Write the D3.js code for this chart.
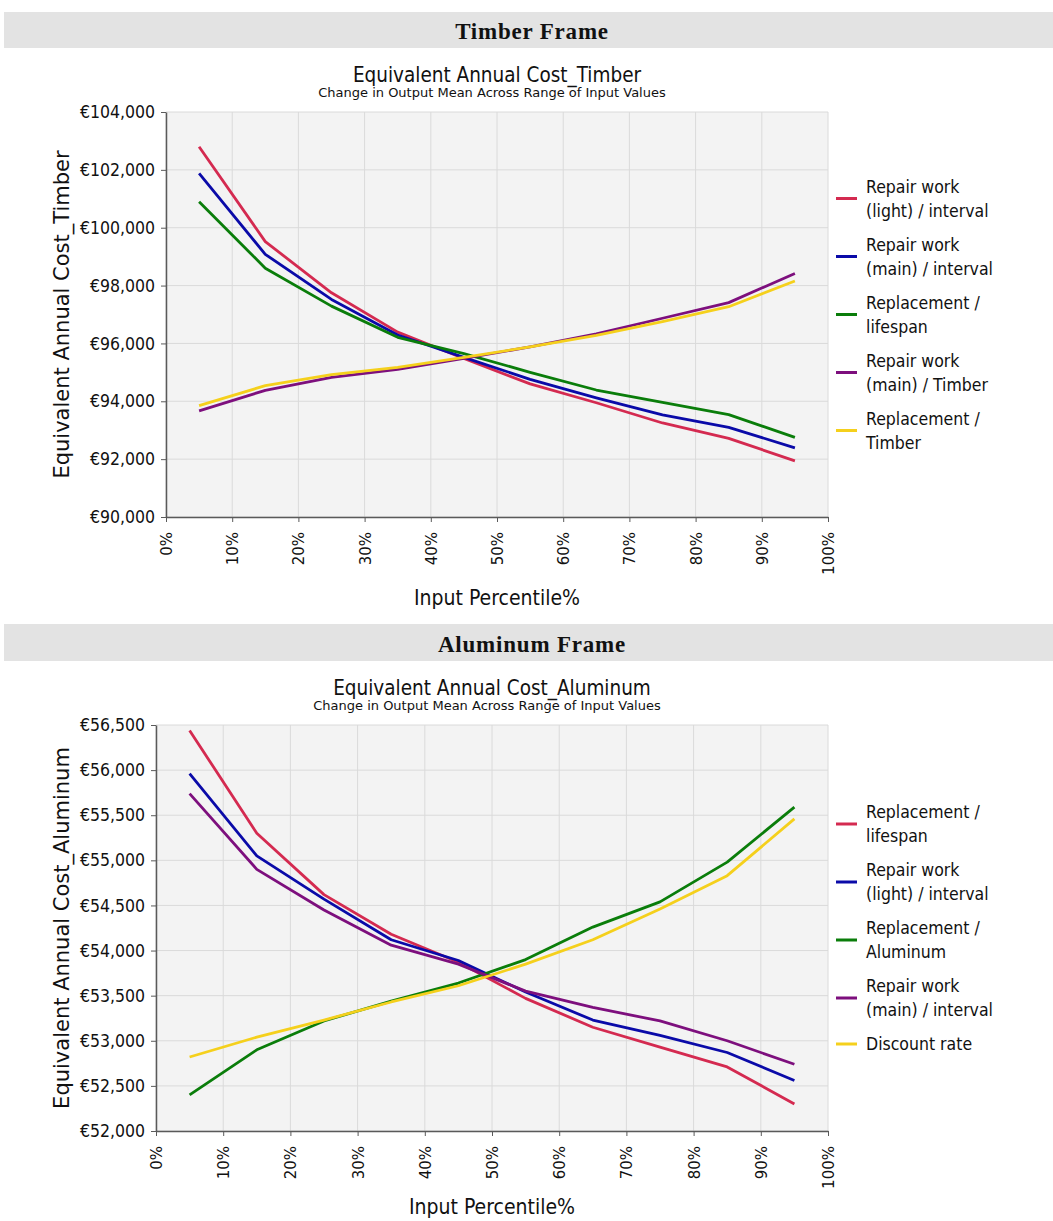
<!DOCTYPE html>
<html>
<head>
<meta charset="utf-8">
<script src="https://cdn.jsdelivr.net/npm/d3@7"></script>
<style>
body { margin: 0; background: #fff; }
svg text { fill: #111; }
</style>
</head>
<body>
<div id="chart"></div>
<script>
// ########## data #############
// input percentiles where the mean was sampled
const percentiles = [5, 15, 25, 35, 45, 55, 65, 75, 85, 95];
const xTicks = [0, 10, 20, 30, 40, 50, 60, 70, 80, 90, 100];

// Timber frame
const timberLegend = [
    ["Repair work", "(light) / interval"],
    ["Repair work", "(main) / interval"],
    ["Replacement /", "lifespan"],
    ["Repair work", "(main) / Timber"],
    ["Replacement /", "Timber"]
];
const timberLightInterval = [102800, 99520, 97750, 96390, 95480, 94600, 93950, 93250, 92720, 91940];
const timberMainInterval  = [101880, 99080, 97520, 96290, 95520, 94760, 94120, 93530, 93100, 92390];
const timberLifespan      = [100900, 98600, 97290, 96210, 95650, 95000, 94390, 93960, 93540, 92750];
const timberMainTimber    = [93670, 94380, 94830, 95100, 95480, 95880, 96330, 96870, 97410, 98420];
const timberReplTimber    = [93850, 94540, 94920, 95170, 95520, 95880, 96280, 96750, 97270, 98160];
const timberYTicks = [90000, 92000, 94000, 96000, 98000, 100000, 102000, 104000];

// Aluminum frame
const aluLegend = [
    ["Replacement /", "lifespan"],
    ["Repair work", "(light) / interval"],
    ["Replacement /", "Aluminum"],
    ["Repair work", "(main) / interval"],
    ["Discount rate"]
];
const aluLifespan      = [56440, 55300, 54620, 54180, 53870, 53470, 53150, 52930, 52710, 52300];
const aluLightInterval = [55960, 55050, 54570, 54120, 53890, 53540, 53230, 53060, 52870, 52560];
const aluReplAluminum  = [52400, 52900, 53220, 53440, 53640, 53900, 54260, 54540, 54980, 55590];
const aluMainInterval  = [55740, 54900, 54450, 54060, 53850, 53550, 53370, 53220, 53000, 52740];
const aluDiscountRate  = [52820, 53040, 53230, 53430, 53610, 53850, 54120, 54460, 54830, 55460];
const aluYTicks = [52000, 52500, 53000, 53500, 54000, 54500, 55000, 55500, 56000, 56500];

// series colours (same order in both charts)
const lineColors = ["#d42a50", "#0a0aa8", "#0a7d0a", "#7d0f7d", "#f5d01c"];

// ########## canvas #############
const width = 1053, height = 1221;
const svg = d3.select("#chart").append("svg")
        .attr("width", width).attr("height", height)
        .attr("viewBox", `0 0 ${width} ${height}`);

const euro = v => "€" + d3.format(",")(v);

// grey section header
function drawBand(y, h, label) {
    svg.append("rect")
        .attr("x", 4).attr("y", y)
        .attr("width", width - 4).attr("height", h)
        .attr("fill", "#e3e3e3");
    svg.append("text")
        .attr("x", 532).attr("y", y + h / 2 + 9)
        .attr("text-anchor", "middle")
        .style("font-family", "'Liberation Serif', serif")
        .style("font-weight", "bold")
        .style("font-size", "23px")
        .style("letter-spacing", "0.8px")
        .text(label);
}

function drawChart(opt) {
    const x = d3.scaleLinear().domain([0, 100]).range([opt.left, opt.right]);
    const y = d3.scaleLinear()
            .domain([opt.yTicks[0], opt.yTicks[opt.yTicks.length - 1]])
            .range([opt.bottom, opt.top]);
    const cx = (opt.left + opt.right) / 2;
    const cy = (opt.top + opt.bottom) / 2;

    // titles
    svg.append("text")
        .attr("x", cx).attr("y", opt.top - 30)
        .attr("text-anchor", "middle")
        .style("font-family", "'DejaVu Sans Condensed', 'DejaVu Sans', sans-serif")
        .style("font-size", "20.5px")
        .text(opt.title);
    svg.append("text")
        .attr("x", cx - 5).attr("y", opt.top - 15)
        .attr("text-anchor", "middle")
        .style("font-family", "'DejaVu Sans', sans-serif")
        .style("font-size", "13px")
        .text("Change in Output Mean Across Range of Input Values");

    // plot background + grid
    const g = svg.append("g");
    g.append("rect")
        .attr("x", opt.left).attr("y", opt.top)
        .attr("width", opt.right - opt.left).attr("height", opt.bottom - opt.top)
        .attr("fill", "#f3f3f3");
    g.selectAll(".vgrid").data(xTicks).enter()
        .append("line").attr("class", "vgrid")
        .attr("x1", d => x(d)).attr("x2", d => x(d))
        .attr("y1", opt.top).attr("y2", opt.bottom)
        .attr("stroke", "#dadada").attr("stroke-width", 1);
    g.selectAll(".hgrid").data(opt.yTicks).enter()
        .append("line").attr("class", "hgrid")
        .attr("x1", opt.left).attr("x2", opt.right)
        .attr("y1", d => y(d)).attr("y2", d => y(d))
        .attr("stroke", "#dadada").attr("stroke-width", 1);

    // axes
    const yAxis = svg.append("g")
        .attr("transform", `translate(${opt.left},0)`)
        .call(d3.axisLeft(y).tickValues(opt.yTicks).tickFormat(euro)
            .tickSize(5).tickSizeOuter(0).tickPadding(6));
    yAxis.selectAll("text")
        .style("font-family", "'DejaVu Sans Condensed', 'DejaVu Sans', sans-serif")
        .style("font-size", "17.5px");

    const xAxis = svg.append("g")
        .attr("transform", `translate(0,${opt.bottom})`)
        .call(d3.axisBottom(x).tickValues(xTicks).tickFormat(d => d + "%")
            .tickSize(5).tickSizeOuter(0));
    xAxis.selectAll("text")
        .attr("transform", "rotate(-90)")
        .attr("text-anchor", "end")
        .attr("x", -15).attr("y", 0).attr("dy", "0.36em")
        .style("font-family", "'DejaVu Sans', sans-serif")
        .style("font-size", "15px");

    [yAxis, xAxis].forEach(a => {
        a.select(".domain").attr("stroke", "#5a5a5a").attr("stroke-width", 1.5);
        a.selectAll(".tick line").attr("stroke", "#5a5a5a");
    });

    // axis titles
    svg.append("text")
        .attr("transform", `translate(62,${cy}) rotate(-90)`)
        .attr("text-anchor", "middle").attr("dy", "0.35em")
        .style("font-family", "'DejaVu Sans', sans-serif")
        .style("font-size", "21px")
        .text(opt.yTitle);
    svg.append("text")
        .attr("x", cx).attr("y", opt.xTitleY)
        .attr("text-anchor", "middle")
        .style("font-family", "'DejaVu Sans Condensed', 'DejaVu Sans', sans-serif")
        .style("font-size", "21px")
        .text("Input Percentile%");

    // lines
    const line = d3.line()
        .x((d, i) => x(percentiles[i]))
        .y(d => y(d));
    svg.append("g").selectAll("path")
        .data(opt.series).enter()
        .append("path")
        .attr("d", d => line(d))
        .attr("fill", "none")
        .attr("stroke", (d, i) => lineColors[i])
        .attr("stroke-width", 2.8)
        .attr("stroke-linejoin", "round");

    // legend, vertically centred on the plot
    const lineH = 24;
    const itemH = opt.legend.map(l => l.length * lineH + 10);
    let yy = cy - d3.sum(itemH) / 2;
    opt.legend.forEach((lines, i) => {
        const mid = yy + itemH[i] / 2;
        svg.append("line")
            .attr("x1", 836).attr("x2", 857)
            .attr("y1", mid).attr("y2", mid)
            .attr("stroke", lineColors[i]).attr("stroke-width", 3);
        lines.forEach((t, k) => {
            svg.append("text")
                .attr("x", 866)
                .attr("y", mid - (lines.length - 1) * lineH / 2 + k * lineH + 6)
                .style("font-family", "'DejaVu Sans Condensed', 'DejaVu Sans', sans-serif")
                .style("font-size", "17.5px")
                .text(t);
        });
        yy += itemH[i];
    });
}

drawBand(12, 36, "Timber Frame");
drawChart({
    left: 166, right: 828, top: 112, bottom: 517, xTitleY: 605,
    yTicks: timberYTicks,
    title: "Equivalent Annual Cost_Timber",
    yTitle: "Equivalent Annual Cost_Timber",
    series: [timberLightInterval, timberMainInterval, timberLifespan, timberMainTimber, timberReplTimber],
    legend: timberLegend
});

drawBand(624, 37, "Aluminum Frame");
drawChart({
    left: 156, right: 828, top: 725, bottom: 1131, xTitleY: 1214,
    yTicks: aluYTicks,
    title: "Equivalent Annual Cost_Aluminum",
    yTitle: "Equivalent Annual Cost_Aluminum",
    series: [aluLifespan, aluLightInterval, aluReplAluminum, aluMainInterval, aluDiscountRate],
    legend: aluLegend
});
</script>
</body>
</html>
